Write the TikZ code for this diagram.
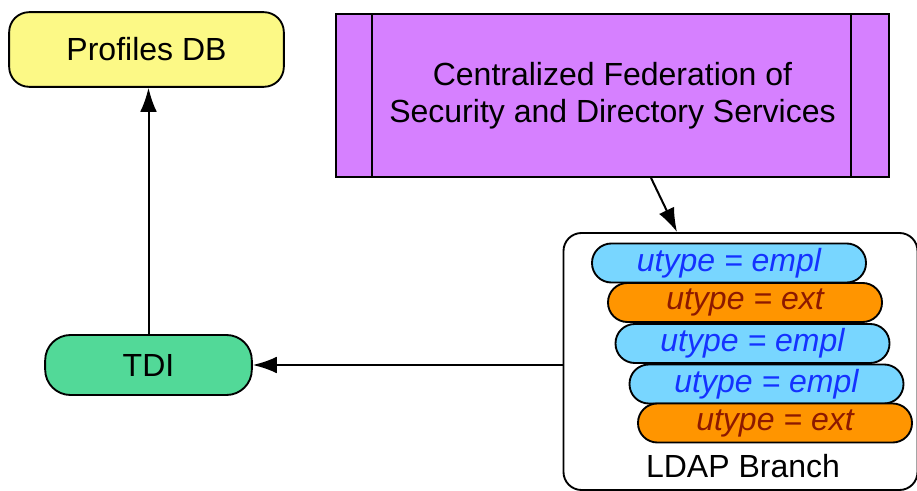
\documentclass[tikz,border=0pt]{standalone}
\usepackage{fontspec}
\setmainfont{Liberation Sans}
\usetikzlibrary{arrows.meta,calc}
\definecolor{dbyellow}{RGB}{252,249,134}
\definecolor{fedpurple}{RGB}{214,128,255}
\definecolor{tdigreen}{RGB}{82,217,152}
\definecolor{emplcyan}{RGB}{120,214,255}
\definecolor{extorange}{RGB}{255,149,0}
\definecolor{empltext}{RGB}{20,50,255}
\definecolor{exttext}{RGB}{140,25,0}
\tikzset{
  base/.style={draw=black, line width=1.4pt, inner sep=0pt, align=center,
    font=\fontsize{24pt}{27pt}\selectfont},
  dbbox/.style={base, fill=dbyellow, rounded corners=15pt, minimum width=206pt, minimum height=56pt},
  fedbox/.style={base, fill=fedpurple, minimum width=414.75pt, minimum height=122.25pt,
    font=\fontsize{24pt}{27.5pt}\selectfont},
  tdibox/.style={base, fill=tdigreen, rounded corners=19pt, minimum width=155pt, minimum height=45pt},
  ldapbox/.style={base, rounded corners=13.5pt, minimum width=265.5pt, minimum height=192.75pt},
  pill/.style={base, rounded corners=14.5pt, minimum width=205.5pt, minimum height=29.25pt,
    font=\fontsize{24pt}{27pt}\selectfont\itshape},
  empl/.style={pill, fill=emplcyan, text=empltext},
  ext/.style={pill, fill=extorange, text=exttext},
  arr/.style={draw=black, line width=1.5pt, -{Latex[length=18pt,width=12.5pt]}},
}
\begin{document}
\begin{tikzpicture}[x=0.75pt,y=-0.75pt]
\useasboundingbox (0,0) rectangle (917,491);
\node[dbbox] (db) at (146.5,49.5) {Profiles DB};
\node[fedbox] (fed) at (612.5,95.5) {\raisebox{-1.5pt}{\parbox{400pt}{\centering Centralized Federation of\\Security and Directory Services}}};
\draw[line width=1.4pt] ([xshift=27.75pt]fed.north west) -- ([xshift=27.75pt]fed.south west);
\draw[line width=1.4pt] ([xshift=-29.25pt]fed.north east) -- ([xshift=-29.25pt]fed.south east);
\node[tdibox] (tdi) at (148.5,365) {TDI};
\node[ldapbox] (ldap) at (740.5,361.5) {};
\node[font=\fontsize{24pt}{27pt}\selectfont] (ldaplabel) at (743,466) {LDAP Branch};
\node[empl] (p1) at (729,263) {utype = empl};
\node[ext] (p2) at (745,302.5) {utype = ext};
\node[empl] (p3) at (752.5,343.5) {utype = empl};
\node[empl] (p4) at (766.5,384) {utype = empl};
\node[ext] (p5) at (775,423) {utype = ext};
\draw[arr] (tdi.north) -- (tdi.north |- db.south);
\draw[arr] (tdi.east -| ldap.west) -- (tdi.east);
\draw[arr] ([xshift=28.9pt]fed.south) -- ([xshift=-47.6pt]ldap.north);
\end{tikzpicture}
\end{document}
